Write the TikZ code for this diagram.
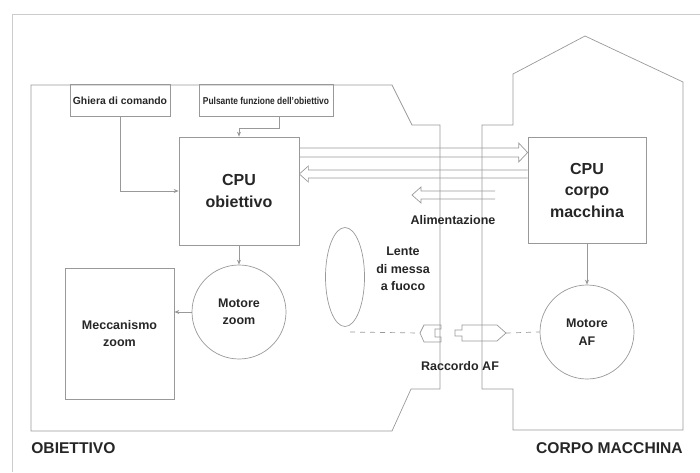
\documentclass[tikz,border=0pt]{standalone}
\usepackage{fontspec}
\setmainfont{Liberation Sans}
\usepackage{graphicx}
\usetikzlibrary{arrows.meta,calc,shapes.geometric}
\begin{document}
\begin{tikzpicture}[x=1pt,y=-1pt,line width=0.7pt,
  ln/.style={draw=black!40},
  txt/.style={align=center,text=black!85,font=\bfseries\fontsize{12.5}{17.5}\selectfont},
  box/.style={ln,rectangle,inner sep=0pt,txt},
  cpubox/.style={box,font=\bfseries\fontsize{16}{21.5}\selectfont},
  motor/.style={ln,circle,minimum size=94pt,inner sep=0pt,txt},
  arr/.style={ln,-{Stealth[length=5pt,width=4pt]}},
  dsh/.style={ln,dash pattern=on 5pt off 5pt},
  big/.style={text=black!85,font=\bfseries\fontsize{15.6}{18}\selectfont,inner sep=0pt}]
\useasboundingbox (0,0) rectangle (700,472);
% page edge
\draw[black!20] (12,472) -- (12,14) -- (700,14);
% outlines
\draw[ln] (440,125) -- (412,125) -- (392,85) -- (31,85) -- (31,431) -- (392,431) -- (411,389) -- (440,389) -- cycle;
\draw[ln] (482,125) -- (513,125) -- (513,74) -- (585,36) -- (683,82) -- (683,430) -- (513,430) -- (513,389) -- (482,389) -- cycle;
% nodes
\node[box,minimum width=100pt,minimum height=32pt,font=\bfseries\fontsize{10.4}{12}\selectfont] (ghiera) at (120,100.5) {Ghiera di comando};
\node[box,minimum width=134pt,minimum height=32pt,font=\bfseries\fontsize{10}{12}\selectfont] (puls) at (266,100.5) {\scalebox{0.84}[1]{Pulsante funzione dell'obiettivo}};
\node[cpubox,minimum width=120pt,minimum height=108pt] (cpuo) at (239,191) {CPU\\obiettivo};
\node[cpubox,minimum width=118pt,minimum height=106pt] (cpuc) at (587,190) {CPU\\corpo\\macchina};
\node[box,minimum width=109pt,minimum height=131pt] (mecc) at (119.5,333.5) {Meccanismo\\zoom};
\node[motor] (mz) at (239,312) {Motore\\zoom};
\node[motor] (maf) at (587,332) {Motore\\AF};
\node[ln,ellipse,minimum width=39pt,minimum height=99pt,inner sep=0pt] (lens) at (345,277) {};
\node[txt] (lenslbl) at (403,269) {Lente\\di messa\\a fuoco};
\node[txt] (alim) at (453,220) {Alimentazione};
\node[txt] (racc) at (460,366) {Raccordo AF};
\node[big,anchor=west] (obj) at (31,448) {OBIETTIVO};
\node[big,anchor=east] (corpo) at (683,448) {CORPO MACCHINA};
% connectors
\draw[arr] (ghiera.south) |- (cpuo.west);
\draw[arr] ($(puls.south)+(13,0)$) -- ++(0,11) -| (cpuo.north);
\draw[arr] (cpuo.south) -- (mz.north);
\draw[arr] (mz.west) -- (mecc.east |- mz.west);
\draw[arr] (cpuc.south) -- (maf.north);
% hollow arrow CPU obiettivo -> CPU corpo
\draw[ln] (cpuo.east |- 0,148) -- ($(cpuc.west |- 0,148)+(-9,0)$) -- ($(cpuc.west |- 0,143)+(-9,0)$)
  -- (cpuc.west |- 0,152.5) -- ($(cpuc.west |- 0,162)+(-9,0)$) -- ($(cpuc.west |- 0,157)+(-9,0)$) -- (cpuo.east |- 0,157);
% hollow arrow CPU corpo -> CPU obiettivo
\draw[ln] (cpuc.west |- 0,170) -- ($(cpuo.east |- 0,170)+(9,0)$) -- ($(cpuo.east |- 0,166)+(9,0)$)
  -- (cpuo.east |- 0,174) -- ($(cpuo.east |- 0,182)+(9,0)$) -- ($(cpuo.east |- 0,178)+(9,0)$) -- (cpuc.west |- 0,178);
% alimentazione arrow
\coordinate (alA) at (495,195);
\coordinate (alB) at (412,195);
\draw[ln] ($(alA)+(0,-4)$) -- ($(alB)+(9,-4)$) -- ($(alB)+(9,-8)$) -- (alB) -- ($(alB)+(9,8)$) -- ($(alB)+(9,4)$) -- ($(alA)+(0,4)$);
% AF coupling
\draw[ln] (420,333) -- (424,325) -- (441,325) -- (441,329) -- (435,329) -- (435,337) -- (441,337) -- (441,342) -- (424,342) -- cycle;
\coordinate (cl) at (420,333);
\draw[ln] (455,330) -- (462,330) -- (462,325) -- (497,325) -- (506,333) -- (497,341) -- (462,341) -- (462,336) -- (455,336) -- cycle;
\coordinate (cr) at (506,333);
\coordinate (d0) at (350,332);
\draw[dsh] (d0) -- (cl);
\draw[dsh] (cr) -- (maf.west);
\end{tikzpicture}
\end{document}
